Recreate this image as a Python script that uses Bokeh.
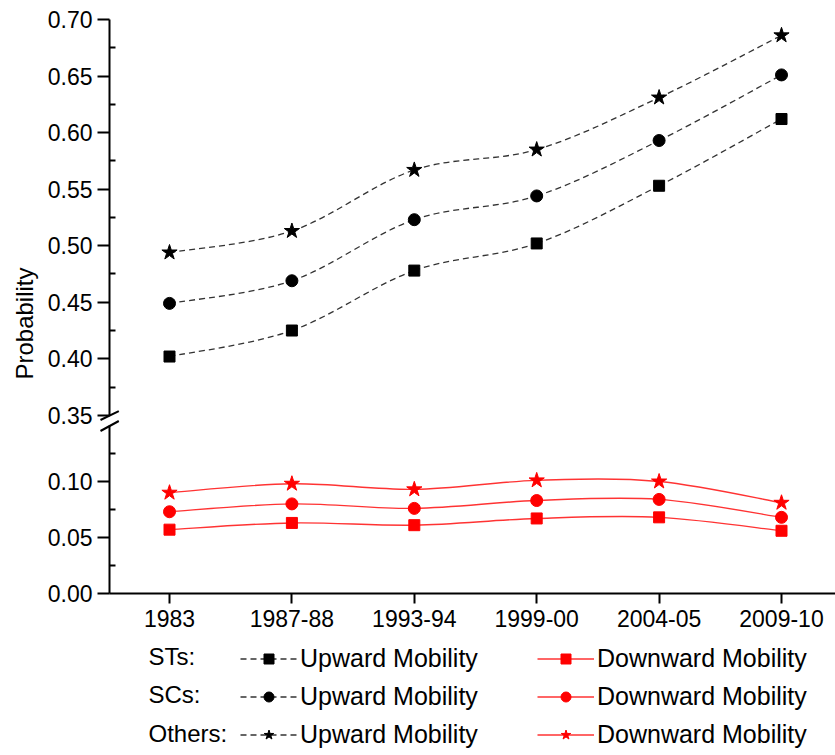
import math
from bokeh.plotting import figure
from bokeh.models import (Range1d, FixedTicker, NumeralTickFormatter, Legend,
                          LegendItem, Label, Arrow, LinearAxis)
from bokeh.embed import file_html
from bokeh.resources import INLINE

# ---------------- data ----------------
categories = ["1983", "1987-88", "1993-94", "1999-00", "2004-05", "2009-10"]

up_sts = [0.402, 0.425, 0.478, 0.502, 0.553, 0.612]
up_scs = [0.449, 0.469, 0.523, 0.544, 0.593, 0.651]
up_oth = [0.494, 0.513, 0.567, 0.585, 0.631, 0.686]

down_sts = [0.057, 0.063, 0.061, 0.067, 0.068, 0.056]
down_scs = [0.073, 0.080, 0.076, 0.083, 0.084, 0.068]
down_oth = [0.090, 0.098, 0.093, 0.101, 0.100, 0.081]

upper_ticks = [0.35, 0.40, 0.45, 0.50, 0.55, 0.60, 0.65, 0.70]
upper_minor = [0.375, 0.425, 0.475, 0.525, 0.575, 0.625, 0.675]
lower_ticks = [0.00, 0.05, 0.10]
lower_minor = [0.025, 0.075, 0.125]

row_labels = ["STs:", "SCs:", "Others:"]
markers = ["square", "circle", "star"]
up_label = "Upward Mobility"
down_label = "Downward Mobility"
y_title = "Probability"

x = list(range(len(categories)))

FONT = "Liberation Sans"
BLACK_LINE = "#333333"
RED = "#ff0000"
RED_LINE = "#ff3333"
sizes = {"square": 11, "circle": 12, "star": 16}

# layout constants (pixel geometry of the 835 x 755 canvas)
W, H = 835, 755
X0_PX, DX_PX = 169.0, 122.4          # first category position, category pitch
Y0_PX, LOW_PPU = 593.0, 1120.0       # y=0 of lower panel, px per unit
Y70_PX, UP_PPU = 19.0, 1131.0        # y=0.70 of upper panel, px per unit
AXIS_X = (109.0 - X0_PX) / DX_PX     # data x of the vertical axis


def dx(px):
    return (px - X0_PX) / DX_PX


def dy(py):
    return (Y0_PX - py) / LOW_PPU


x_range = Range1d(dx(0), dx(W))
y_low = Range1d(dy(H), dy(0))
y_up = Range1d(0.70 - (H - Y70_PX) / UP_PPU, 0.70 + Y70_PX / UP_PPU)

p = figure(width=W, height=H, x_range=x_range, y_range=y_low,
           output_backend="svg", toolbar_location=None, title=None,
           x_axis_location=None, y_axis_location=None, min_border=0,
           min_border_left=0, min_border_right=0, min_border_top=0,
           min_border_bottom=0)
p.extra_y_ranges = {"upper": y_up}
p.outline_line_color = None
p.background_fill_color = "white"
p.border_fill_color = "white"
p.grid.visible = False


def style_yaxis(ax, ticks, minor):
    ax.ticker = FixedTicker(ticks=ticks, minor_ticks=minor)
    ax.formatter = NumeralTickFormatter(format="0.00")
    ax.major_tick_out = 12
    ax.major_tick_in = 0
    ax.minor_tick_out = 0
    ax.minor_tick_in = 6
    ax.axis_line_width = 2
    ax.major_tick_line_width = 2
    ax.minor_tick_line_width = 2
    ax.axis_line_color = "black"
    ax.major_tick_line_color = "black"
    ax.minor_tick_line_color = "black"
    ax.major_label_text_font = FONT
    ax.major_label_text_font_size = "23px"
    ax.major_label_text_color = "black"
    ax.major_label_standoff = 5


y_axis_up = LinearAxis(y_range_name="upper", fixed_location=AXIS_X,
                       bounds=(0.35, 0.70))
style_yaxis(y_axis_up, upper_ticks, upper_minor)
p.add_layout(y_axis_up, "left")

y_axis_low = LinearAxis(fixed_location=AXIS_X, bounds=(0.0, 0.15))
style_yaxis(y_axis_low, lower_ticks, lower_minor)
p.add_layout(y_axis_low, "left")

xa = LinearAxis(fixed_location=0.0, bounds=(AXIS_X, dx(W)))
xa.ticker = FixedTicker(ticks=x, minor_ticks=[])
xa.major_label_overrides = {i: c for i, c in zip(x, categories)}
xa.major_tick_out = 10
xa.major_tick_in = 0
xa.axis_line_width = 2
xa.major_tick_line_width = 2
xa.axis_line_color = "black"
xa.major_tick_line_color = "black"
xa.major_label_text_font = FONT
xa.major_label_text_font_size = "23px"
xa.major_label_text_color = "black"
xa.major_label_standoff = 6
p.add_layout(xa, "below")


def smooth(xs, ys):
    """Catmull-Rom control points for a bezier through the data points."""
    n = len(xs)
    out = dict(x0=[], y0=[], x1=[], y1=[], cx0=[], cy0=[], cx1=[], cy1=[])
    for i in range(n - 1):
        a = max(i - 1, 0)
        d = min(i + 2, n - 1)
        out["x0"].append(xs[i]); out["y0"].append(ys[i])
        out["x1"].append(xs[i + 1]); out["y1"].append(ys[i + 1])
        out["cx0"].append(xs[i] + (xs[i + 1] - xs[a]) / 6.0)
        out["cy0"].append(ys[i] + (ys[i + 1] - ys[a]) / 6.0)
        out["cx1"].append(xs[i + 1] - (xs[d] - xs[i]) / 6.0)
        out["cy1"].append(ys[i + 1] - (ys[d] - ys[i]) / 6.0)
    return out


up_items, down_items = [], []
for vals, mk in zip([up_sts, up_scs, up_oth], markers):
    lr = p.bezier(line_color=BLACK_LINE, line_width=1.3, line_dash="6 4",
                  y_range_name="upper", **smooth(x, vals))
    sr = p.scatter(x, vals, marker=mk, size=sizes[mk], color="black",
                   y_range_name="upper")
    up_items.append(LegendItem(label=up_label, renderers=[lr, sr]))

for vals, mk in zip([down_sts, down_scs, down_oth], markers):
    lr = p.bezier(line_color=RED_LINE, line_width=1.4, **smooth(x, vals))
    sr = p.scatter(x, vals, marker=mk, size=sizes[mk], color=RED)
    down_items.append(LegendItem(label=down_label, renderers=[lr, sr]))

# axis break marks
p.add_layout(Arrow(end=None, x_start=dx(100), y_start=dy(419.5),
                   x_end=dx(118.3), y_end=dy(410.7),
                   line_width=2, line_color="black"))
p.add_layout(Arrow(end=None, x_start=dx(100), y_start=dy(430.5),
                   x_end=dx(118.3), y_end=dy(420.5),
                   line_width=2, line_color="black"))

# y axis title
p.add_layout(Label(x=dx(24), y=dy(323), text=y_title, angle=math.pi / 2,
                   text_align="center", text_baseline="middle",
                   text_font=FONT, text_font_size="24px", text_color="black"))

# ---------------- legend ----------------
legend = Legend(items=up_items + down_items, nrows=3, location=(240, 6),
                padding=0, margin=0, border_line_color=None,
                background_fill_alpha=0, glyph_width=57, glyph_height=25,
                label_height=25, label_width=228, label_standoff=3, spacing=9,
                label_text_font=FONT, label_text_font_size="25px",
                label_text_color="black")
p.add_layout(legend)

row_y = [656, 694, 733]
for txt, ry in zip(row_labels, row_y):
    p.add_layout(Label(x=dx(148), y=dy(ry), text=txt,
                       text_align="left", text_baseline="middle",
                       text_font=FONT, text_font_size="24px",
                       text_color="black"))

open("out.html", "w").write(file_html(p, INLINE))
